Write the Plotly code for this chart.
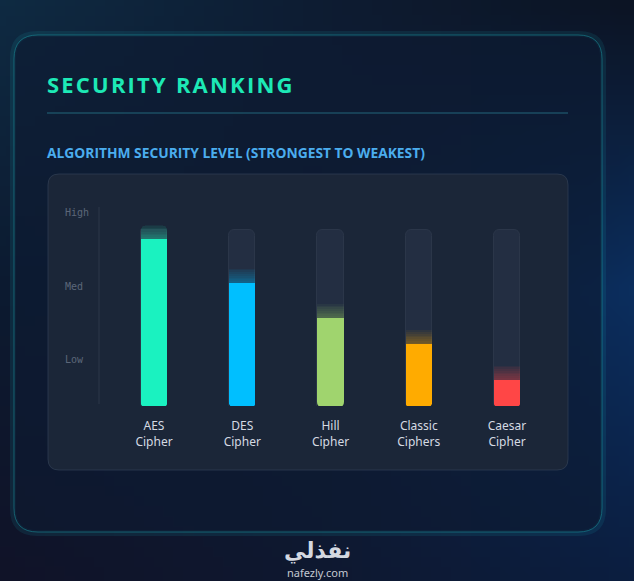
import base64
import struct
import zlib

import plotly.graph_objects as go

W, H = 634, 581

# --- data ---
algorithms = ["AES<br>Cipher", "DES<br>Cipher", "Hill<br>Cipher", "Classic<br>Ciphers", "Caesar<br>Cipher"]
security_scores = [95, 70, 50, 35, 15]
bar_colors = ["#1af2c0", "#00bfff", "#a0d46e", "#ffab00", "#ff4646"]
level_labels = ["High", "Med", "Low"]
track_max = 100


def px(x):
    return x / W


def py(y):
    return 1 - y / H


def rounded_rect(x0, y0, x1, y1, r):
    """rounded rectangle path in paper coords, input in pixels (top-left origin)"""
    pts = [
        f"M {px(x0 + r)},{py(y0)}",
        f"L {px(x1 - r)},{py(y0)}",
        f"Q {px(x1)},{py(y0)} {px(x1)},{py(y0 + r)}",
        f"L {px(x1)},{py(y1 - r)}",
        f"Q {px(x1)},{py(y1)} {px(x1 - r)},{py(y1)}",
        f"L {px(x0 + r)},{py(y1)}",
        f"Q {px(x0)},{py(y1)} {px(x0)},{py(y1 - r)}",
        f"L {px(x0)},{py(y0 + r)}",
        f"Q {px(x0)},{py(y0)} {px(x0 + r)},{py(y0)}",
        "Z",
    ]
    return " ".join(pts)


def hex_rgb(h):
    h = h.lstrip("#")
    return [int(h[i:i + 2], 16) for i in (0, 2, 4)]


def background_png():
    # 3x3 colour grid, bilinear blend, small image stretched by the browser
    grid = [
        ["#0e2a42", "#0d1c32", "#0c1424"],
        ["#0c1a30", "#0e1b33", "#0b2e5e"],
        ["#101328", "#0e1830", "#0b1e40"],
    ]
    grid = [[hex_rgb(c) for c in row] for row in grid]
    w, h = 64, 58
    rows = []
    for j in range(h):
        v = j / (h - 1) * 2
        j0 = min(int(v), 1)
        fv = v - j0
        row = bytearray([0])
        for i in range(w):
            u = i / (w - 1) * 2
            i0 = min(int(u), 1)
            fu = u - i0
            for c in range(3):
                a = grid[j0][i0][c] * (1 - fu) + grid[j0][i0 + 1][c] * fu
                b = grid[j0 + 1][i0][c] * (1 - fu) + grid[j0 + 1][i0 + 1][c] * fu
                row.append(int(round(a * (1 - fv) + b * fv)))
        rows.append(bytes(row))

    def chunk(tag, data):
        body = tag + data
        return struct.pack(">I", len(data)) + body + struct.pack(">I", zlib.crc32(body) & 0xFFFFFFFF)

    png = b"\x89PNG\r\n\x1a\n"
    png += chunk(b"IHDR", struct.pack(">IIBBBBB", w, h, 8, 2, 0, 0, 0))
    png += chunk(b"IDAT", zlib.compress(b"".join(rows)))
    png += chunk(b"IEND", b"")
    return "data:image/png;base64," + base64.b64encode(png).decode()


def rgba(hexc, a):
    r, g, b = hex_rgb(hexc)
    return f"rgba({r},{g},{b},{a})"


def spaced(text):
    # poor man's letter-spacing
    return "\u200a".join(text)


# --- bar geometry (pixels) ---
bar_w = 0.295
plot_left, plot_right = 99, 568
bar_bottom, bar_top_full = 406, 230
unit = (bar_bottom - bar_top_full) / track_max
y_top_px = 206
x_lo = (plot_left - 154) / 88.25
x_hi = (plot_right - 154) / 88.25
panel_color = "#1b2638"

fig = go.Figure()

# empty tracks
fig.add_trace(go.Bar(
    x=algorithms, y=[track_max] * len(algorithms), width=bar_w,
    marker=dict(color="#232e42", line=dict(color="#2b3649", width=1), cornerradius=6),
    hoverinfo="skip", showlegend=False,
))

# soft glow above each bar
for extra in [8, 7, 6, 5, 4, 3, 2, 1]:
    fig.add_trace(go.Bar(
        x=algorithms, y=[s + extra for s in security_scores], width=bar_w,
        marker=dict(color=[rgba(c, 0.06) for c in bar_colors], line=dict(width=0), cornerradius=6),
        hoverinfo="skip", showlegend=False,
    ))

# actual bars
fig.add_trace(go.Bar(
    x=algorithms, y=security_scores, width=bar_w,
    marker=dict(color=bar_colors, line=dict(width=0), cornerradius=6),
    showlegend=False,
))

shapes = [
    # card glow + card
    dict(type="path", path=rounded_rect(13, 34, 603, 533, 24), xref="paper", yref="paper",
         line=dict(color="rgba(30,200,210,0.10)", width=6), fillcolor="rgba(0,0,0,0)", layer="below"),
    dict(type="path", path=rounded_rect(14, 35, 602, 532, 24), xref="paper", yref="paper",
         line=dict(color="rgba(28,150,160,0.55)", width=1), fillcolor="rgba(14,27,50,0.6)", layer="below"),
    # divider
    dict(type="line", x0=px(47), x1=px(568), y0=py(113), y1=py(113), xref="paper", yref="paper",
         line=dict(color="rgba(40,120,140,0.55)", width=1.5), layer="below"),
    # inner panel
    dict(type="path", path=rounded_rect(48, 174, 568, 470, 11), xref="paper", yref="paper",
         line=dict(color="rgba(50,64,86,0.7)", width=1), fillcolor=panel_color, layer="below"),
    # y axis line
    dict(type="line", x0=px(99), x1=px(99), y0=py(207), y1=py(404), xref="paper", yref="paper",
         line=dict(color="#2d3749", width=1), layer="below"),
]

# round off the bottom corners of the bars (mask the square corners)
rx, ry = 5.5 / 88.25, 5.5 / H
yb = py(bar_bottom) - 1 / H
for i in range(len(algorithms)):
    xl, xr = i - bar_w / 2 - 0.006, i + bar_w / 2 + 0.006
    for xc, sgn in [(xl, 1), (xr, -1)]:
        shapes.append(dict(
            type="path", xref="x", yref="paper", layer="above",
            path=f"M {xc},{yb} L {xc + sgn * rx},{yb} Q {xc},{yb} {xc},{yb + ry} Z",
            fillcolor=panel_color, line=dict(width=0),
        ))

annotations = [
    dict(text="<b>" + spaced("SECURITY RANKING") + "</b>", x=px(45), y=py(84), xref="paper", yref="paper",
         xanchor="left", yanchor="middle", showarrow=False,
         font=dict(family="Open Sans", size=22, color="#1de9b6")),
    dict(text="<b>ALGORITHM SECURITY LEVEL (STRONGEST TO WEAKEST)</b>", x=px(45), y=py(152),
         xref="paper", yref="paper", xanchor="left", yanchor="middle", showarrow=False,
         font=dict(family="Open Sans", size=13.8, color="#4badee")),
    dict(text="<b>نفذلي</b>", x=0.5, y=py(551), xref="paper", yref="paper", showarrow=False,
         xanchor="center", yanchor="middle", font=dict(family="DejaVu Sans", size=22, color="#d4d8e0")),
    dict(text="nafezly.com", x=0.5, y=py(572), xref="paper", yref="paper", showarrow=False,
         xanchor="center", yanchor="middle", font=dict(family="Noto Sans", size=11, color="#c4c9d2")),
]
for label, ypx in zip(level_labels, [213, 286, 359]):
    annotations.append(dict(text=label, x=px(63), y=py(ypx), xref="paper", yref="paper",
                            xanchor="left", yanchor="middle", showarrow=False,
                            font=dict(family="DejaVu Sans Mono", size=10, color="#5c6678")))

fig.update_layout(
    width=W, height=H,
    margin=dict(l=0, r=0, t=0, b=0),
    paper_bgcolor="#0d1a2e", plot_bgcolor="rgba(0,0,0,0)",
    barmode="overlay", bargap=0,
    xaxis=dict(domain=[px(plot_left), px(plot_right)], range=[x_lo, x_hi],
               showgrid=False, zeroline=False, showline=False, ticks="",
               ticklabelstandoff=11,
               tickfont=dict(family="Noto Sans", size=12, color="#d5dae3")),
    yaxis=dict(domain=[py(bar_bottom), py(y_top_px)], range=[0, (bar_bottom - y_top_px) / unit],
               visible=False),
    shapes=shapes,
    annotations=annotations,
    images=[dict(source=background_png(), xref="paper", yref="paper", x=0, y=1,
                 sizex=1, sizey=1, sizing="stretch", layer="below", xanchor="left", yanchor="top")],
)

fig.write_html("out.html", config={"displayModeBar": False},
               post_script="document.body.style.margin='0';"
                           "document.body.style.background='#0d1a2e';")
